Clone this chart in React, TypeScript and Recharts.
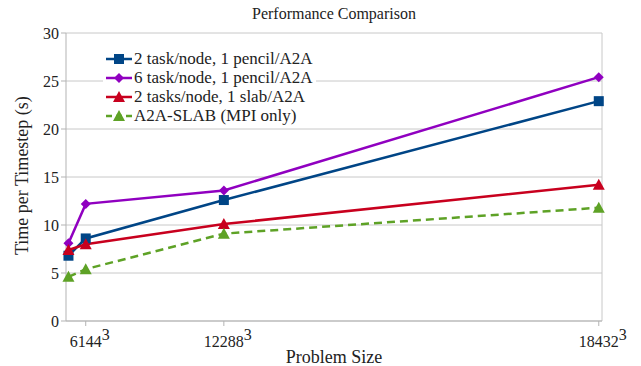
import { LineChart, Line, XAxis, YAxis, CartesianGrid, ReferenceLine } from 'recharts';

const sizes = [3072, 6144, 12288, 18432];
const tickSizes = [6144, 12288, 18432];
const pencil2 = [6.8, 8.6, 12.6, 22.9];
const pencil6 = [8.1, 12.2, 13.6, 25.4];
const slab2 = [7.4, 8.0, 10.1, 14.2];
const mpiSlab = [4.6, 5.4, 9.1, 11.8];
const yTicks = [0, 5, 10, 15, 20, 25, 30];

const cube = (n: number) => (n * n * n) / 1e9;

const data = sizes.map((n, i) => ({
  x: cube(n),
  pencil2: pencil2[i],
  pencil6: pencil6[i],
  slab2: slab2[i],
  mpiSlab: mpiSlab[i],
}));

const FONT = "'Liberation Serif', 'Times New Roman', Times, serif";
const AXIS = '#b3b3b3';

const series = [
  { key: 'pencil2', name: '2 task/node, 1 pencil/A2A', color: '#004586', shape: 'square', dash: undefined },
  { key: 'pencil6', name: '6 task/node, 1 pencil/A2A', color: '#9000c0', shape: 'diamond', dash: undefined },
  { key: 'slab2', name: '2 tasks/node, 1 slab/A2A', color: '#c8001e', shape: 'triangle', dash: undefined },
  { key: 'mpiSlab', name: 'A2A-SLAB (MPI only)', color: '#5ea226', shape: 'triangle', dash: '8 5' },
];

function Marker({ cx, cy, shape, color }: { cx: number; cy: number; shape: string; color: string }) {
  if (cx == null || cy == null) return null;
  if (shape === 'square') {
    return <rect x={cx - 5} y={cy - 5} width={10} height={10} fill={color} />;
  }
  if (shape === 'diamond') {
    return <path d={`M${cx},${cy - 5}L${cx + 5},${cy}L${cx},${cy + 5}L${cx - 5},${cy}Z`} fill={color} />;
  }
  return <path d={`M${cx},${cy - 6}L${cx + 6},${cy + 5}L${cx - 6},${cy + 5}Z`} fill={color} />;
}

function XTick({ x, y, payload }: any) {
  const n = Math.round(Math.cbrt(payload.value * 1e9));
  return (
    <text x={x + 4} y={y + 19} textAnchor="middle" fontFamily={FONT} fontSize={16} fill="#222">
      {n}
      <tspan dy={-7} fontSize={16}>3</tspan>
    </text>
  );
}

function LegendBox() {
  return (
    <div
      style={{
        position: 'absolute',
        left: 103,
        top: 49,
        background: 'white',
        padding: '0 4px 0 2px',
        fontFamily: FONT,
        fontSize: 17,
        color: '#222',
        lineHeight: '19px',
      }}
    >
      {series.map((s) => (
        <div key={s.key} style={{ display: 'flex', alignItems: 'center', height: 19 }}>
          <svg width={28} height={14} style={{ marginRight: 1 }}>
            <line x1={1} y1={7} x2={27} y2={7} stroke={s.color} strokeWidth={2.5} strokeDasharray={s.dash ? '6 4' : undefined} />
            <Marker cx={14} cy={7} shape={s.shape} color={s.color} />
          </svg>
          <span>{s.name}</span>
        </div>
      ))}
    </div>
  );
}

export default function App() {
  return (
    <div style={{ position: 'absolute', left: 0, top: 0, width: 641, height: 366, background: 'white' }}>
      <LineChart width={641} height={366} data={data} margin={{ top: 33, right: 39, bottom: 0, left: 0 }}>
        <text x={334} y={19} textAnchor="middle" fontFamily={FONT} fontSize={16} fill="#222">
          Performance Comparison
        </text>
        <CartesianGrid vertical={false} stroke="#c8c8c8" />
        <XAxis
          dataKey="x"
          type="number"
          domain={[0, 6300]}
          ticks={tickSizes.map(cube)}
          interval={0}
          tick={<XTick />}
          stroke={AXIS}
          tickSize={5}
          height={45}
          label={{ value: 'Problem Size', position: 'insideBottom', offset: 3, fontFamily: FONT, fontSize: 18, fill: '#222' }}
        />
        <YAxis
          domain={[0, 30]}
          ticks={yTicks}
          stroke={AXIS}
          tickSize={5}
          width={66}
          tick={{ fontFamily: FONT, fontSize: 16, fill: '#222' }}
          label={{ value: 'Time per Timestep (s)', angle: -90, position: 'insideLeft', offset: 22, dy: 78, fontFamily: FONT, fontSize: 18, fill: '#222' }}
        />
        <ReferenceLine x={6300} stroke="#c8c8c8" />
        {series.map((s) => (
          <Line
            key={s.key}
            dataKey={s.key}
            name={s.name}
            stroke={s.color}
            strokeWidth={2.5}
            strokeDasharray={s.dash}
            isAnimationActive={false}
            dot={(p: any) => <Marker key={`${s.key}-${p.index}`} cx={p.cx} cy={p.cy} shape={s.shape} color={s.color} />}
          />
        ))}
      </LineChart>
      <LegendBox />
    </div>
  );
}
